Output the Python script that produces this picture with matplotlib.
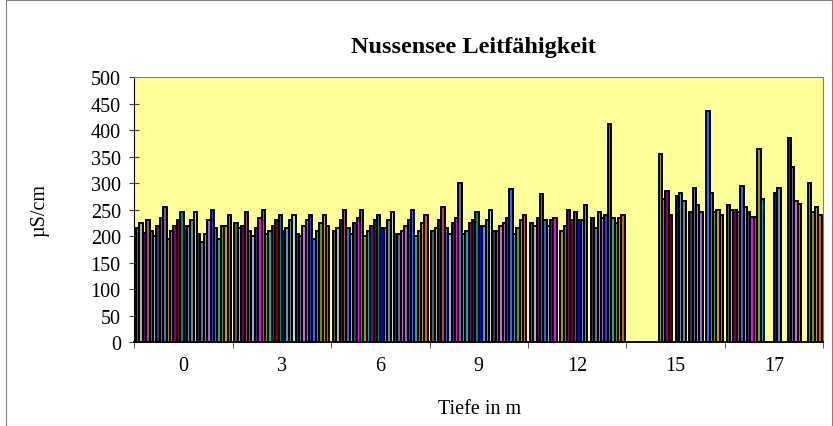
import numpy as np
import matplotlib.pyplot as plt
from matplotlib.patches import Rectangle

nan = np.nan

# depths (categories) and conductivity per measuring date (28 series)
depths = ["0", "3", "6", "9", "12", "15", "17"]

cat_0 = [215, 225, 206, 230, 210, 201, 220, 235, 255, 195, 210, 220, 230, 245,
         220, 220, 230, 245, 205, 190, 205, 230, 250, 215, 195, 220, 220, 240]
cat_3 = [225, 215, 220, 245, 210, 200, 215, 235, 250, 205, 210, 220, 230, 240,
         210, 215, 230, 240, 205, 200, 220, 230, 240, 195, 210, 225, 240, 220]
cat_6 = [210, 215, 230, 250, 215, 205, 225, 235, 250, 200, 210, 220, 230, 240,
         215, 215, 230, 245, 205, 205, 210, 220, 230, 250, 200, 210, 225, 240]
cat_9 = [210, 215, 230, 255, 215, 205, 225, 235, 300, 205, 210, 225, 230, 245,
         220, 220, 230, 250, 210, 210, 220, 225, 235, 290, 205, 215, 230, 240]
cat_12 = [225, 220, 235, 280, 230, 220, 230, 235, nan, 210, 220, 250, 230, 245,
          230, 230, 260, nan, 235, 215, 245, 235, 240, 411, 235, 225, 235, 240]
cat_15 = [nan, nan, nan, nan, nan, nan, nan, nan, nan, 355, 270, 285, 241, nan,
          276, 281, 266, nan, 246, 291, 260, 246, nan, 436, 281, 246, 250, 241]
cat_17 = [260, 250, 250, 246, 295, 255, 246, 237, 237, 365, 270, nan, nan, nan,
          281, 291, nan, nan, 385, 331, 266, 261, nan, nan, 300, 246, 255, 241]

values = np.array([cat_0, cat_3, cat_6, cat_9, cat_12, cat_15, cat_17])

series_colors = ["#4d5e4d", "#b0b0b0", "#660066", "#a05050", "#3366cc", "#88aadd",
                 "#333366", "#ff00ff", "#666699", "#999900", "#00b0b0", "#800080",
                 "#800000", "#008080", "#0000ff", "#5599cc", "#808080", "#aadddd",
                 "#333333", "#666699", "#cc66cc", "#9966cc", "#3333cc", "#3366ff",
                 "#339999", "#669900", "#cc9900", "#cc6600"]

plt.rcParams['font.family'] = ['Liberation Serif', 'DejaVu Serif']

fig = plt.figure(figsize=(8.33, 4.27), dpi=100)
ax = fig.add_axes([134.3 / 833, 1 - 343.3 / 427, 689 / 833, 265 / 427])
ax.set_facecolor("#ffff99")

n_series = values.shape[1]
gap = 0.035
w = (1 - gap) / n_series
x = np.arange(len(depths))
for k in range(n_series):
    pos = x - 0.5 + gap / 2 + (k + 0.5) * w
    ax.bar(pos, values[:, k], width=w, color=series_colors[k],
           edgecolor="black", linewidth=1.4, zorder=2)

ax.set_xlim(-0.5, len(depths) - 0.5)
ax.set_ylim(0, 500)
ax.set_yticks(np.arange(0, 501, 50))

ax.set_xticks(x)
ax.set_xticklabels(depths)
ax.set_xticks(np.arange(-0.5, len(depths)), minor=True)
ax.tick_params(axis="x", which="major", length=0, pad=10, labelsize=14.5)
ax.tick_params(axis="x", which="minor", length=4.5, direction="out", color="#404040")
ax.tick_params(axis="y", which="major", length=7.5, direction="inout", color="#404040",
               labelsize=14.5, pad=6)

for side in ["top", "right"]:
    ax.spines[side].set_color("#808080")
    ax.spines[side].set_linewidth(0.8)
ax.spines["left"].set_color("black")
ax.spines["bottom"].set_color("black")
ax.spines["bottom"].set_linewidth(1.4)

fig.text(0.568, 0.888, "Nussensee Leitfähigkeit", ha="center", va="center",
         fontsize=17.5, fontweight="bold")
fig.text(0.048, 0.508, "µS/cm", ha="center", va="center", rotation=90, fontsize=14.5)
fig.text(0.576, 0.04, "Tiefe in m", ha="center", va="center", fontsize=14.5)

fig.patches.append(Rectangle((6 / 833, 0.5 / 427), 826 / 833, 425.5 / 427,
                             transform=fig.transFigure, fill=False,
                             edgecolor="#808080", linewidth=0.8))

fig.savefig("out.png", dpi=100)
